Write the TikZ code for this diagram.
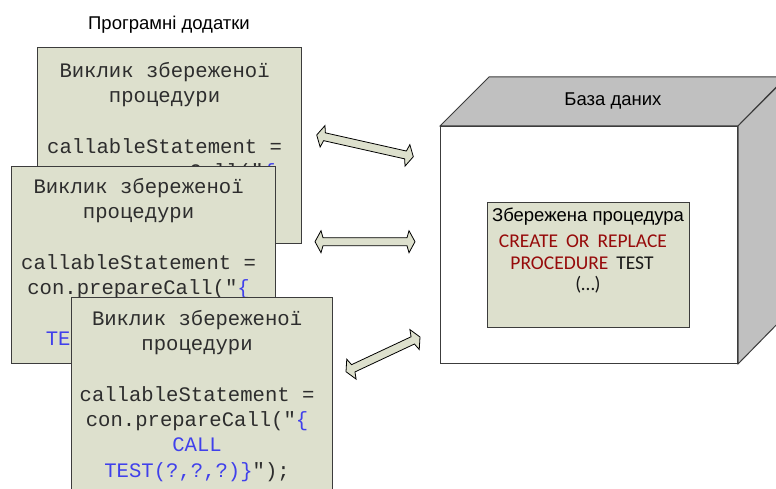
\documentclass[tikz,border=0pt]{standalone}
\usepackage{fontspec}
\setmainfont{Liberation Sans}
\newfontfamily\codefont{Liberation Mono}
\newfontfamily\calfont{Carlito}
\usetikzlibrary{calc}
\definecolor{boxfill}{RGB}{221,224,205}
\definecolor{codeblue}{RGB}{64,64,235}
\definecolor{sqlred}{RGB}{150,10,10}
\definecolor{cubegray}{RGB}{192,192,192}
\definecolor{edgegray}{RGB}{60,60,60}
\definecolor{codetext}{RGB}{45,45,45}
\newcommand\mkblockarrow[2]{%
  \draw[blockarr] (#1)
    -- ($(#1)!6pt!(#2)!11pt!90:(#2)$)
    -- ($(#1)!8pt!(#2)!4pt!90:(#2)$)
    -- ($(#2)!8pt!(#1)!4pt!-90:(#1)$)
    -- ($(#2)!6pt!(#1)!11pt!-90:(#1)$)
    -- (#2)
    -- ($(#2)!6pt!(#1)!11pt!90:(#1)$)
    -- ($(#2)!8pt!(#1)!4pt!90:(#1)$)
    -- ($(#1)!8pt!(#2)!4pt!-90:(#2)$)
    -- ($(#1)!6pt!(#2)!11pt!-90:(#2)$)
    -- cycle;}
\begin{document}
\begin{tikzpicture}[x=1pt,y=-1pt,
  appbox/.style={draw=edgegray, line width=1.2pt, fill=boxfill, anchor=north west, inner sep=0pt},
  codetxt/.style={anchor=north, inner sep=0pt, align=center, text=codetext, font=\codefont\fontsize{20.6}{25.3}\selectfont},
  sanslabel/.style={anchor=base, inner sep=0pt, font=\fontsize{18.5}{22}\selectfont},
  sqltxt/.style={anchor=base, inner sep=0pt, font=\calfont\fontsize{19.5}{23}\selectfont, text=black!90},
  blockarr/.style={draw=black, line width=0.8pt, fill=boxfill, line join=miter},
  cubeface/.style={draw=edgegray, line width=1pt, line join=miter}]
\useasboundingbox (0,0) rectangle (776,489);
\fill[white] (0,0) rectangle (776,489);
\clip (0,0) rectangle (776,489);

% title
\node[sanslabel] (title) at (169,30) {Програмні додатки};

% application boxes (lines fully hidden behind the next box are left out)
\node[appbox, minimum width=264pt, minimum height=196pt] (box1) at (37,47) {};
\node[codetxt] (code1) at ($(box1.north)+(-5,12.5)$) {\strut Виклик збереженої\\процедури\\\mbox{}\\callableStatement =\\con.prepareCall("\textcolor{codeblue}{\{}};

\node[appbox, minimum width=264pt, minimum height=197pt] (box2) at (11,166) {};
\node[codetxt] (code2) at ($(box2.north)+(-5,9.5)$) {\strut Виклик збереженої\\процедури\\\mbox{}\\callableStatement =\\con.prepareCall("\textcolor{codeblue}{\{}\\\mbox{}\\\textcolor{codeblue}{TEST(?,?,?)\}}");};

\node[appbox, minimum width=261pt, minimum height=210pt] (box3) at (71,297) {};
\node[codetxt] (code3) at ($(box3.north)+(-5,10.5)$) {\strut Виклик збереженої\\процедури\\\mbox{}\\callableStatement =\\con.prepareCall("\textcolor{codeblue}{\{}\\\textcolor{codeblue}{CALL}\\\textcolor{codeblue}{TEST(?,?,?)\}}");};

% arrows
\coordinate (a1s) at (316.7,135);  \coordinate (a1e) at (413.3,156.7);
\coordinate (a2s) at (315,241.7);  \coordinate (a2e) at (415,241.7);
\coordinate (a3s) at (346,371.7);  \coordinate (a3e) at (420,337);
\mkblockarrow{a1s}{a1e}
\mkblockarrow{a2s}{a2e}
\mkblockarrow{a3s}{a3e}

% database cube
\node[cubeface, fill=white, minimum width=297pt, minimum height=237pt, anchor=north west, inner sep=0pt] (front) at (440,126) {};
\draw[cubeface, fill=cubegray] (front.north west) -- ++(49,-49) -- ++(297,0) -- (front.north east) -- cycle;
\draw[cubeface, fill=cubegray] (front.north east) -- ++(49,-49) -- ++(0,237) -- (front.south east) -- cycle;
\node[sanslabel] (dbname) at (613,106) {База даних};

% stored procedure box
\node[draw=edgegray, line width=1pt, fill=boxfill, minimum width=202pt, minimum height=125pt, anchor=north west, inner sep=0pt] (proc) at (487,202) {};
\node[sanslabel] (proctitle) at (588,222) {Збережена процедура};
\node[sqltxt] (sql1) at (583,247) {\textcolor{sqlred}{CREATE\hspace{8pt}OR\hspace{8pt}REPLACE}};
\node[sqltxt] (sql2) at (582,269) {\textcolor{sqlred}{PROCEDURE}\hspace{8pt}TEST};
\node[sqltxt] (sql3) at (588,290) {(…)};
\end{tikzpicture}
\end{document}
